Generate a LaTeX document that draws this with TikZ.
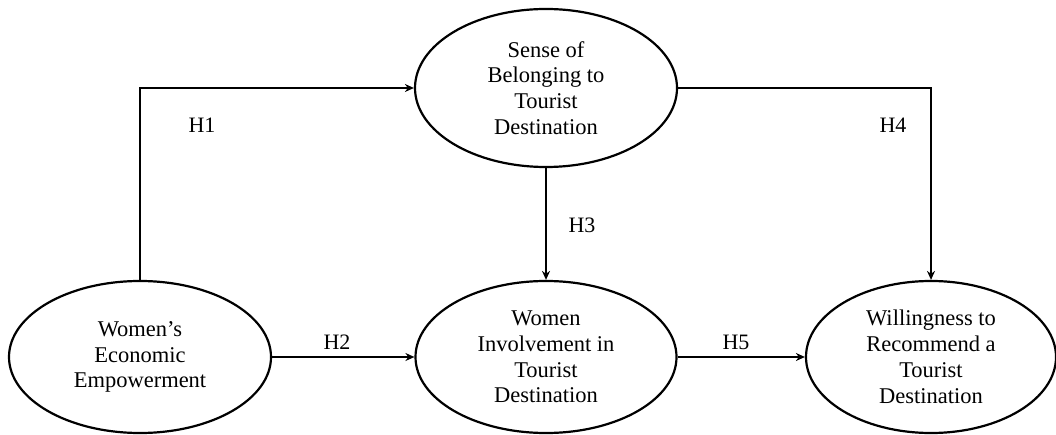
\documentclass[tikz,border=0pt]{standalone}
\usepackage{fontspec}
\setmainfont{Liberation Serif}
\usetikzlibrary{shapes.geometric,arrows.meta}
\begin{document}
\begin{tikzpicture}[x=1pt,y=1pt,
  construct/.style={ellipse,draw,line width=2.2pt,inner sep=0pt,align=center,
    font=\fontsize{22.5}{25.8}\selectfont,minimum height=152pt},
  link/.style={line width=2.2pt,-{Stealth[length=9pt,width=8pt]}},
  hyp/.style={font=\fontsize{22}{24}\selectfont}]
\useasboundingbox (0,0) rectangle (1056,-435);
\node[construct,minimum width=262pt,minimum height=158pt] (sob) at (546,-88)
  {Sense of\\Belonging to\\Tourist\\Destination};
\node[construct,minimum width=262pt] (wee) at (140,-357)
  {Women’s\\Economic\\Empowerment};
\node[construct,minimum width=261pt] (wit) at (546,-357)
  {Women\\Involvement in\\Tourist\\Destination};
\node[construct,minimum width=250pt] (wrt) at (931,-357)
  {Willingness to\\Recommend a\\Tourist\\Destination};
\draw[link] (wee.north) |- (sob.west);
\draw[link] (sob.east) -| (wrt.north);
\draw[link] (sob.south) -- (wit.north);
\draw[link] (wee.east) -- (wit.west);
\draw[link] (wit.east) -- (wrt.west);
\node[hyp] (h1) at (202,-125) {H1};
\node[hyp] (h4) at (893,-125) {H4};
\node[hyp] (h3) at (582,-225) {H3};
\node[hyp] (h2) at (337,-342) {H2};
\node[hyp] (h5) at (736,-342) {H5};
\end{tikzpicture}
\end{document}
